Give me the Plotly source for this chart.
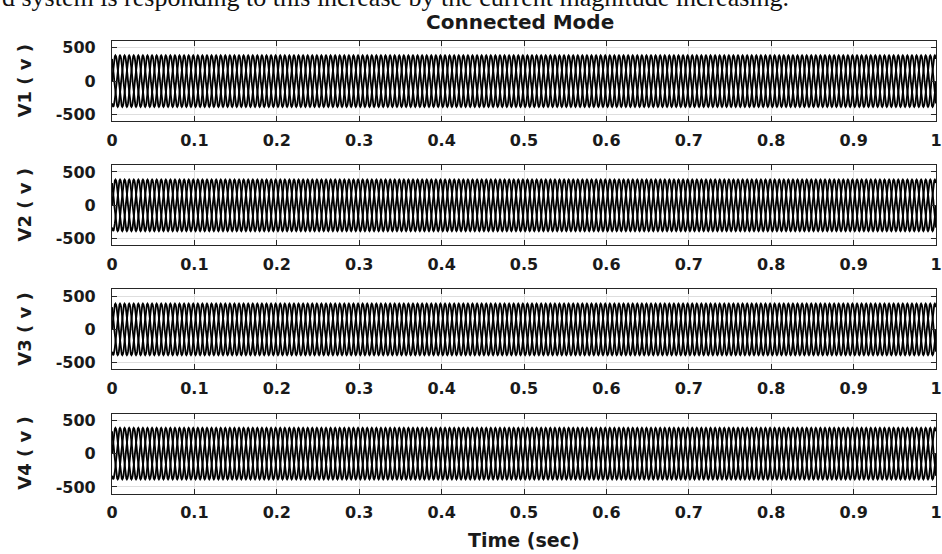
import numpy as np
import plotly.graph_objects as go

# ---------------- data ----------------
time_ticks = [0, 0.1, 0.2, 0.3, 0.4, 0.5, 0.6, 0.7, 0.8, 0.9, 1.0]
time_tick_labels = ["0", "0.1", "0.2", "0.3", "0.4", "0.5", "0.6", "0.7", "0.8", "0.9", "1"]
volt_ticks = [-500, 0, 500]
volt_tick_labels = ["-500", "0", "500"]
panel_names = ["V1 ( v )", "V2 ( v )", "V3 ( v )", "V4 ( v )"]
peak_voltage = [385, 385, 385, 385]          # (V)
grid_freq_hz = 60
duration_s = 1.0
phase_shift_deg = [0, 120, 240]
# one cycle of the per-unit waveform, 24 samples per cycle
cycle_shape = [0.0, 0.259, 0.5, 0.707, 0.866, 0.966, 1.0, 0.966, 0.866, 0.707, 0.5, 0.259,
               0.0, -0.259, -0.5, -0.707, -0.866, -0.966, -1.0, -0.966, -0.866, -0.707, -0.5, -0.259]

title_text = "Connected Mode"
xlabel_text = "Time (sec)"
top_text = "d system is responding to this increase by the current magnitude increasing."

# ---------------- build figure ----------------
W, H = 942, 554
L, R = 112, 4
panel_top_px = [38.5, 164, 289.5, 415]
panel_h_px = 81
plot_w = W - L - R

spc = len(cycle_shape)
n_cycles = int(round(grid_freq_hz * duration_s))
t = np.arange(n_cycles * spc + 1) / (spc * grid_freq_hz)

fig = go.Figure()
axis_color = "#262626"
grid_color = "#dedede"
tick_font = dict(family="DejaVu Sans", size=16, color="#1a1a1a", weight="bold")

for i, name in enumerate(panel_names):
    xa = "x" if i == 0 else f"x{i+1}"
    ya = "y" if i == 0 else f"y{i+1}"
    for ph in phase_shift_deg:
        k = int(round(ph / 360 * spc))
        shape = np.array(cycle_shape[-k:] + cycle_shape[:-k] if k else cycle_shape)
        v = np.tile(shape, n_cycles)
        v = np.append(v, shape[0]) * peak_voltage[i]
        fig.add_trace(go.Scatter(x=t, y=v, mode="lines", xaxis=xa, yaxis=ya,
                                 line=dict(color="black", width=1.8), showlegend=False,
                                 hoverinfo="skip"))
    top = panel_top_px[i]
    y0 = 1 - (top + panel_h_px) / H
    y1 = 1 - top / H
    xkey = "xaxis" if i == 0 else f"xaxis{i+1}"
    ykey = "yaxis" if i == 0 else f"yaxis{i+1}"
    fig.layout[xkey] = dict(domain=[0, 1], anchor=ya, range=[0, 1],
                            tickvals=time_ticks, ticktext=time_tick_labels,
                            ticks="inside", ticklen=5, tickcolor=axis_color,
                            showline=True, linecolor=axis_color, linewidth=1.2, mirror="ticks",
                            showgrid=True, gridcolor=grid_color, gridwidth=1, zeroline=False,
                            tickfont=tick_font, ticklabelstandoff=4,
                            ticklabeloverflow="allow")
    fig.layout[ykey] = dict(domain=[y0, y1], anchor=xa, range=[-600, 600],
                            tickvals=volt_ticks, ticktext=volt_tick_labels,
                            ticks="inside", ticklen=5, tickcolor=axis_color,
                            showline=True, linecolor=axis_color, linewidth=1.2, mirror="ticks",
                            showgrid=True, gridcolor=grid_color, gridwidth=1, zeroline=False,
                            tickfont=tick_font, ticklabelstandoff=12)
    fig.add_annotation(text=name, xref="paper", yref="paper",
                       x=(24 - L) / plot_w, y=1 - (top + panel_h_px / 2) / H,
                       xanchor="center", yanchor="middle", textangle=-90, showarrow=False,
                       font=dict(family="DejaVu Sans", size=18, color="#1a1a1a", weight="bold"))

fig.add_annotation(text=title_text, xref="paper", yref="paper",
                   x=(521 - L) / plot_w, y=1 - 19.5 / H, xanchor="center", yanchor="middle",
                   showarrow=False,
                   font=dict(family="DejaVu Sans", size=20, color="#1a1a1a", weight="bold"))
fig.add_annotation(text=xlabel_text, xref="paper", yref="paper",
                   x=(525 - L) / plot_w, y=1 - 543 / H, xanchor="center", yanchor="middle",
                   showarrow=False,
                   font=dict(family="DejaVu Sans", size=19, color="#1a1a1a", weight="bold"))
fig.add_annotation(text=top_text, xref="paper", yref="paper",
                   x=(0 - L) / plot_w, y=1 - 11.5 / H, xanchor="left", yanchor="bottom",
                   showarrow=False,
                   font=dict(family="Liberation Serif", size=26, color="#111111"))

fig.update_layout(width=W, height=H, margin=dict(l=L, r=R, t=0, b=0),
                  paper_bgcolor="white", plot_bgcolor="white")
fig.write_html("out.html")
